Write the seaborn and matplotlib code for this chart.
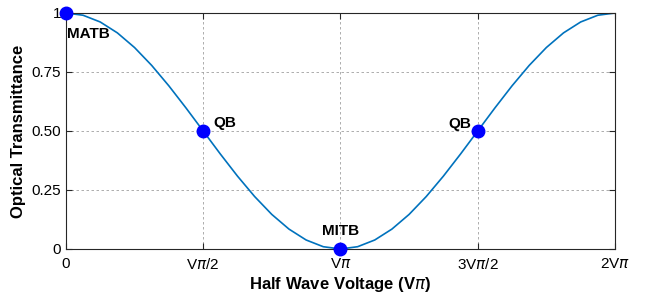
import numpy as np
import pandas as pd
import matplotlib
matplotlib.use('Agg')
import matplotlib.pyplot as plt
import seaborn as sns

# 曲线读数 (横轴单位 Vπ)
voltage = [i / 16 for i in range(33)]
transmittance = [1.0000, 0.9904, 0.9619, 0.9157, 0.8536, 0.7778, 0.6913, 0.5975, 0.5000,
                 0.4025, 0.3087, 0.2222, 0.1464, 0.0843, 0.0381, 0.0096, 0.0000,
                 0.0096, 0.0381, 0.0843, 0.1464, 0.2222, 0.3087, 0.4025, 0.5000,
                 0.5975, 0.6913, 0.7778, 0.8536, 0.9157, 0.9619, 0.9904, 1.0000]

# 偏置点
bias_x = [0, 0.5, 1.0, 1.5]
bias_y = [1.0, 0.5, 0.0, 0.5]
bias_names = ['MATB', 'QB', 'MITB', 'QB']

x_ticks = [0, 0.5, 1.0, 1.5, 2.0]
x_ticklabels = ['0', r'V$\pi$/2', r'V$\pi$', r'3V$\pi$/2', r'2V$\pi$']
y_ticks = [0, 0.25, 0.5, 0.75, 1.0]
y_ticklabels = ['0', '0.25', '0.50', '0.75', '1']

sns.set_style('ticks')
plt.rcParams['font.family'] = ['Liberation Sans', 'DejaVu Sans']
plt.rcParams['mathtext.fontset'] = 'dejavusans'
plt.rcParams['text.color'] = 'black'
plt.rcParams['axes.labelcolor'] = 'black'


def main():
    df = pd.DataFrame({'v': voltage, 't': transmittance})

    fig = plt.figure(figsize=(6.46, 2.95), dpi=100)
    ax = fig.add_axes([0.102, 0.156, 0.850, 0.800])

    sns.lineplot(data=df, x='v', y='t', ax=ax, color='#0072BD', linewidth=1.2)
    ax.plot(bias_x, bias_y, 'o', color='#0000FF', markersize=9,
            clip_on=False, zorder=5)

    # 偏置点标注
    offsets = [(1, -10, 'left', 'top'), (7, 6, 'left', 'center'),
               (0, 8, 'center', 'bottom'), (-5, 5, 'right', 'center')]
    for x, y, name, (dx, dy, ha, va) in zip(bias_x, bias_y, bias_names, offsets):
        ax.annotate(name, (x, y), xytext=(dx, dy), textcoords='offset points',
                    ha=ha, va=va, fontsize=11, fontweight='bold', color='black')

    ax.set_xlim(0, 2)
    ax.set_ylim(0, 1)
    ax.set_xticks(x_ticks)
    ax.set_xticklabels(x_ticklabels)
    ax.set_yticks(y_ticks)
    ax.set_yticklabels(y_ticklabels)
    ax.tick_params(direction='in', top=True, right=True, labelsize=11,
                   length=4, width=0.8, colors='#262626', labelcolor='black')
    ax.tick_params(axis='x', pad=6)
    ax.grid(True, linestyle=(0, (3, 3)), color='#a0a0a0', linewidth=0.6)
    for s in ax.spines.values():
        s.set_visible(True)
        s.set_color('#262626')
        s.set_linewidth(0.8)

    ax.set_xlabel(r'Half Wave Voltage (V$\pi$)', fontsize=12, fontweight='bold',
                  labelpad=2)
    ax.set_ylabel('Optical Transmittance', fontsize=12, fontweight='bold',
                  labelpad=4)

    fig.savefig('out.png', dpi=100)


if __name__ == '__main__':
    main()
